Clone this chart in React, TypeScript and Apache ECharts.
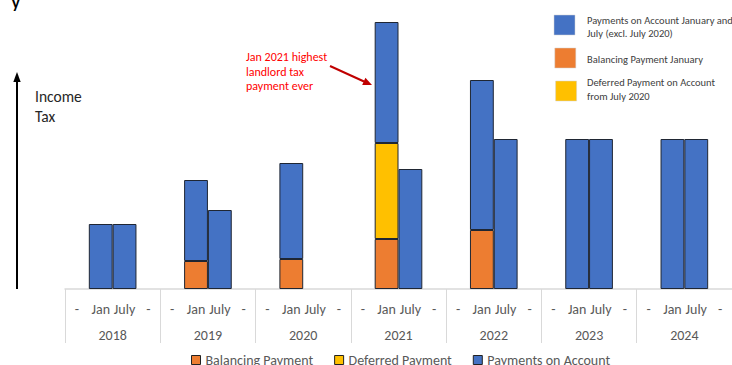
import React, { useEffect, useRef } from "react";
import * as echarts from "echarts";

const years = ["2018", "2019", "2020", "2021", "2022", "2023", "2024"];
const periods = ["-", "Jan", "July", "-"];
const balancingJan = [0, 28, 30, 50, 59, 0, 0];
const deferredJan = [0, 0, 0, 96, 0, 0, 0];
const poaJan = [65, 81, 96, 121, 150, 150, 150];
const poaJuly = [65, 79, 0, 120, 150, 150, 150];

const seriesNames = ["Balancing Payment", "Deferred Payment", "Payments on Account"];
const colors = ["#ED7D31", "#FFC000", "#4472C4"];
const topLegendLines = [
  ["Payments on Account January and", "July (excl. July 2020)"],
  ["Balancing Payment January"],
  ["Deferred Payment on Account", "from July 2020"],
];
const topLegendColors = ["#4472C4", "#ED7D31", "#FFC000"];
const annotationLines = ["Jan 2021 highest", "landlord tax", "payment ever"];

const FONT = "Calibri, Carlito, 'Liberation Sans', Arial, sans-serif";

const categories = years.flatMap((y) => periods.map((p, i) => `${y}|${p}|${i}`));
function spread(jan: number[], july: number[] | null) {
  return years.flatMap((_, k) => [
    null,
    jan[k] ? jan[k] : null,
    july && july[k] ? july[k] : null,
    null,
  ]);
}

export default function App() {
  const ref = useRef<HTMLDivElement>(null);
  useEffect(() => {
    if (!ref.current) return;
    const chart = echarts.init(ref.current, null, { renderer: "svg" });
    const dataSets = [spread(balancingJan, null), spread(deferredJan, null), spread(poaJan, poaJuly)];

    const graphics: any[] = [];
    // cut-off title glyph
    graphics.push({
      type: "text", x: 12, y: -6,
      style: { text: "y", fontSize: 16, fontWeight: "bold", fill: "#000", fontFamily: FONT },
    });
    // Income tax arrow
    graphics.push({
      type: "line",
      shape: { x1: 17, y1: 80, x2: 17, y2: 289 },
      style: { stroke: "#000", lineWidth: 2 },
    });
    graphics.push({
      type: "polygon",
      shape: { points: [[17, 72], [13.3, 82], [20.7, 82]] },
      style: { fill: "#000" },
    });
    graphics.push({
      type: "text", x: 35, y: 86.7,
      style: { text: "Income\nTax", fontSize: 15.5, lineHeight: 20, fill: "#262626", fontFamily: FONT },
    });
    // annotation
    graphics.push({
      type: "text", x: 246, y: 49.7,
      style: { text: annotationLines.join("\n"), fontSize: 12, lineHeight: 14.7, fill: "#FF0000", fontFamily: FONT },
    });
    graphics.push({
      type: "line",
      shape: { x1: 330, y1: 66, x2: 364, y2: 81.5 },
      style: { stroke: "#C00000", lineWidth: 2 },
    });
    graphics.push({
      type: "polygon",
      shape: { points: [[372, 85], [362.2, 85.1], [365.4, 77.7]] },
      style: { fill: "#C00000" },
    });
    // top-right legend
    const boxY = [15, 48, 81];
    topLegendColors.forEach((c, i) => {
      graphics.push({
        type: "rect",
        shape: { x: 554 + i * 0.8, y: boxY[i], width: 21, height: 20 },
        style: { fill: c, stroke: "#d0d0d0", lineWidth: 0.5 },
      });
    });
    const textY = [13.3, 52.6, 76];
    topLegendLines.forEach((lines, i) => {
      graphics.push({
        type: "text", x: 587, y: textY[i],
        style: { text: lines.join("\n"), fontSize: 10.5, lineHeight: 13.7, fill: "#404040", fontFamily: FONT },
      });
    });

    chart.setOption({
      animation: false,
      backgroundColor: "#ffffff",
      grid: { left: 65, right: -4, top: 19, bottom: 76, containLabel: false },
      legend: {
        left: 191, top: 353, padding: 0,
        data: seriesNames,
        icon: "rect", itemWidth: 9, itemHeight: 9, itemGap: 21,
        itemStyle: { borderColor: "#222", borderWidth: 1 },
        textStyle: { fontSize: 14, color: "#595959", fontFamily: FONT },
      },
      xAxis: [
        {
          type: "category",
          data: categories,
          position: "bottom",
          axisLine: { show: true, lineStyle: { color: "#d9d9d9", width: 1.5 } },
          axisTick: { show: false },
          axisLabel: {
            interval: 0, margin: 13, fontSize: 14, color: "#595959", fontFamily: FONT,
            formatter: (v: string) => v.split("|")[1],
          },
        },
        {
          type: "category",
          data: years,
          position: "bottom",
          axisLine: { show: false },
          axisTick: { show: true, length: 54, interval: 0, lineStyle: { color: "#d9d9d9", width: 1 } },
          axisLabel: { interval: 0, margin: 39, fontSize: 14, color: "#595959", fontFamily: FONT },
        },
      ],
      yAxis: { type: "value", min: 0, max: 270, show: false, splitLine: { show: false } },
      series: seriesNames.map((name, i) => ({
        name,
        type: "bar",
        stack: "total",
        xAxisIndex: 0,
        barCategoryGap: "0%",
        data: dataSets[i],
        itemStyle: { color: colors[i], borderColor: "#1f2633", borderWidth: 1 },
      })),
      graphic: graphics,
    });
    return () => chart.dispose();
  }, []);
  return (
    <div
      ref={ref}
      style={{ position: "fixed", left: 0, top: 0, width: 732, height: 365, background: "#fff" }}
    />
  );
}
